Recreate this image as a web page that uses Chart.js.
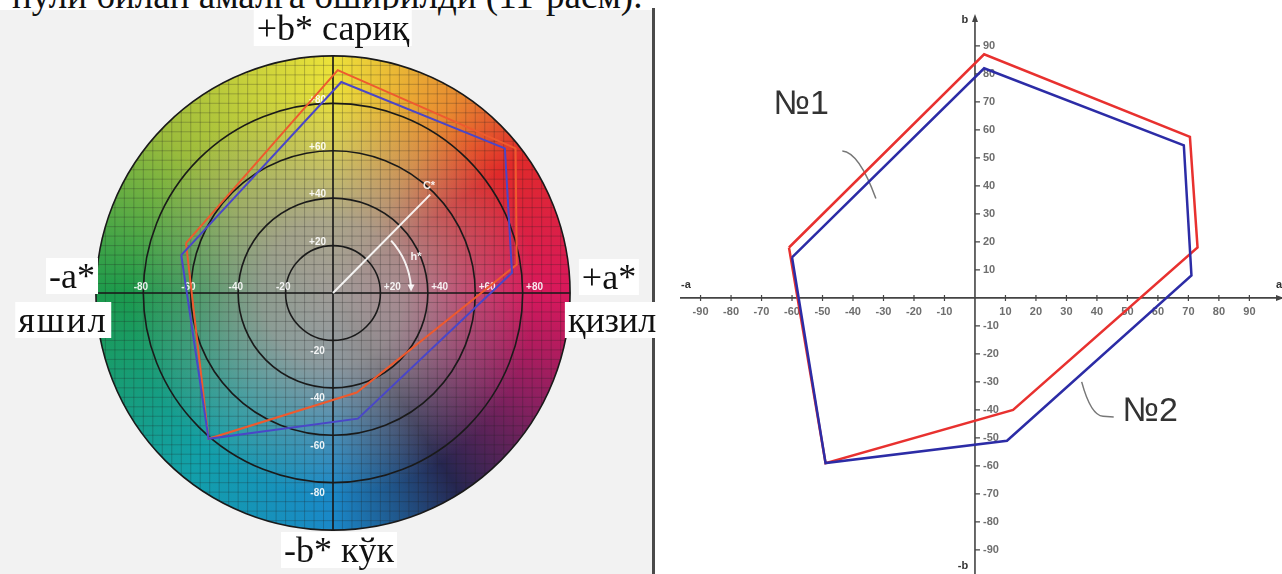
<!DOCTYPE html>
<html>
<head>
<meta charset="utf-8">
<script src="https://cdn.jsdelivr.net/npm/chart.js@4.4.1/dist/chart.umd.min.js"></script>
<style>
  body { margin: 0; width: 1282px; height: 574px; overflow: hidden; background: #fff; position: relative; }
  .t { position: absolute; white-space: nowrap; color: #111; font-family: "Liberation Serif", serif; }
  .lbl { font-size: 36px; line-height: 36px; background: #fff; padding: 0 3px; transform: translateX(-50%); }
  #panel { position: absolute; left: 0; top: 10px; width: 652px; height: 564px; background: #f2f2f2; }
  #sep { position: absolute; left: 652px; top: 8px; width: 3px; height: 566px; background: #4a4a4a; }
  #wheel { position: absolute; left: 85px; top: 45px; }
  #lab { position: absolute; left: 678px; top: 12px; }
</style>
</head>
<body>
<div id="panel"></div>
<div class="t" style="left:12px; top:-23px; font-size:37px; line-height:37px;">нули билан амалга оширилди (11-расм).</div>
<div id="sep"></div>
<canvas id="wheel" width="496" height="496"></canvas>
<canvas id="lab" width="604" height="562"></canvas>
<div class="t lbl" style="left:333px; top:10px;">+b* сариқ</div>
<div class="t lbl" style="left:339px; top:532px;">-b* кўк</div>
<div class="t lbl" style="left:72px; top:258px;">-a*</div>
<div class="t lbl" style="left:63px; top:302px; letter-spacing:2px;">яшил</div>
<div class="t lbl" style="left:609px; top:259px;">+a*</div>
<div class="t lbl" style="left:612px; top:302px;">қизил</div>
<script>
// colour circle (left)
const wheelTicks = [-80, -60, -40, -20, 20, 40, 60, 80];
const wheelRings = [20, 40, 60, 80, 100];
const wheelA1 = [-62, 2, 77, 77.5, 10, -52.5, -62];
const wheelB1 = [21, 94, 61, 12, -42, -61.5, 21];
const wheelA2 = [-64, 3.5, 72.5, 75.5, 10.5, -52.5, -64];
const wheelB2 = [16, 89, 61, 8.5, -53, -61.5, 16];
const chromaA = [0, 41];
const chromaB = [0, 41.5];

// a*b* plot (right)
const labTicks = [-90, -80, -70, -60, -50, -40, -30, -20, -10, 10, 20, 30, 40, 50, 60, 70, 80, 90];
const labA1 = [-61, 3, 70.5, 73, 12.5, -49, -61];
const labB1 = [18, 87, 57.5, 18, -40, -59, 18];
const labA2 = [-60, 3, 68.5, 71, 10.5, -49, -60];
const labB2 = [14.5, 82, 54.5, 8, -51, -59, 14.5];

function line(a, b, color, width) {
  return {
    data: a.map((v, i) => ({ x: v, y: b[i] })),
    showLine: true, borderColor: color, borderWidth: width,
    pointRadius: 0, fill: false, tension: 0
  };
}

function baseOptions(xMin, xMax, yMin, yMax) {
  return {
    responsive: false, animation: false,
    layout: { padding: 0 },
    plugins: { legend: { display: false }, tooltip: { enabled: false } },
    scales: {
      x: { type: 'linear', min: xMin, max: xMax, display: false },
      y: { type: 'linear', min: yMin, max: yMax, display: false }
    }
  };
}

const wheelPlugin = {
  id: 'wheel',
  beforeDatasetsDraw(chart) {
    const { ctx, scales: { x, y } } = chart;
    const cx = x.getPixelForValue(0), cy = y.getPixelForValue(0);
    const k = x.getPixelForValue(1) - cx;
    const R = 100 * k;
    ctx.save();
    const g = ctx.createConicGradient(0, cx, cy);
    g.addColorStop(0, '#d8185c');
    g.addColorStop(0.08, '#8a2060');
    g.addColorStop(0.16, '#262650');
    g.addColorStop(0.25, '#1a88c8');
    g.addColorStop(0.36, '#12a0a8');
    g.addColorStop(0.5, '#1c9a4c');
    g.addColorStop(0.62, '#9cbc3c');
    g.addColorStop(0.75, '#ece23a');
    g.addColorStop(0.84, '#e88a30');
    g.addColorStop(0.9, '#e02a2a');
    g.addColorStop(1, '#d8185c');
    ctx.beginPath();
    ctx.arc(cx, cy, R, 0, Math.PI * 2);
    ctx.fillStyle = g;
    ctx.fill();
    const rg = ctx.createRadialGradient(cx, cy, 0, cx, cy, R);
    rg.addColorStop(0, 'rgba(160,156,152,1)');
    rg.addColorStop(0.3, 'rgba(160,156,152,0.85)');
    rg.addColorStop(0.6, 'rgba(160,156,152,0.35)');
    rg.addColorStop(0.85, 'rgba(160,156,152,0)');
    ctx.fillStyle = rg;
    ctx.fill();
    // fine mesh
    ctx.save();
    ctx.clip();
    ctx.strokeStyle = 'rgba(30,30,30,0.25)';
    ctx.lineWidth = 1;
    ctx.beginPath();
    for (let v = -100; v <= 100; v += 4) {
      const px = x.getPixelForValue(v), py = y.getPixelForValue(v);
      ctx.moveTo(px, cy - R); ctx.lineTo(px, cy + R);
      ctx.moveTo(cx - R, py); ctx.lineTo(cx + R, py);
    }
    ctx.stroke();
    ctx.restore();
    // rings and axes
    ctx.strokeStyle = '#1a1a1a';
    ctx.lineWidth = 1.6;
    wheelRings.forEach(r => {
      ctx.beginPath();
      ctx.arc(cx, cy, r * k, 0, Math.PI * 2);
      ctx.stroke();
    });
    ctx.beginPath();
    ctx.moveTo(cx, cy - R); ctx.lineTo(cx, cy + R);
    ctx.moveTo(cx - R, cy); ctx.lineTo(cx + R, cy);
    ctx.stroke();
    // tick labels
    ctx.fillStyle = 'rgba(255,255,255,0.9)';
    ctx.font = 'bold 10px "Liberation Sans", sans-serif';
    ctx.textAlign = 'center';
    ctx.textBaseline = 'middle';
    wheelTicks.forEach(v => {
      const s = (v > 0 ? '+' : '') + v;
      ctx.fillText(s, x.getPixelForValue(v > 0 ? v + 5 : v - 1), cy - 6);
      ctx.fillText(s, x.getPixelForValue(-6.5), y.getPixelForValue(v > 0 ? v + 1.5 : v - 4.5));
    });
    // hue angle arc
    const r = 33 * k;
    ctx.strokeStyle = 'rgba(255,255,255,0.9)';
    ctx.lineWidth = 2;
    ctx.beginPath();
    ctx.arc(cx, cy, r, -42 * Math.PI / 180, -5 * Math.PI / 180);
    ctx.stroke();
    const ex = cx + r * Math.cos(-4 * Math.PI / 180), ey = cy + r * Math.sin(-4 * Math.PI / 180);
    ctx.beginPath();
    ctx.moveTo(ex - 3.5, ey - 3); ctx.lineTo(ex + 3.5, ey - 3); ctx.lineTo(ex, ey + 4);
    ctx.closePath();
    ctx.fillStyle = 'rgba(255,255,255,0.9)';
    ctx.fill();
    ctx.font = 'bold 11px "Liberation Sans", sans-serif';
    ctx.fillText('h*', x.getPixelForValue(35), y.getPixelForValue(15));
    ctx.fillText('C*', x.getPixelForValue(40.5), y.getPixelForValue(45));
    ctx.restore();
  }
};

new Chart(document.getElementById('wheel'), {
  type: 'scatter',
  data: {
    datasets: [
      line(wheelA2, wheelB2, '#4a46c8', 2),
      line(wheelA1, wheelB1, '#ee5a2e', 2),
      line(chromaA, chromaB, 'rgba(255,255,255,0.9)', 2)
    ]
  },
  options: baseOptions(-104.6, 104.6, -104.6, 104.6),
  plugins: [wheelPlugin]
});

const axesPlugin = {
  id: 'crossAxes',
  beforeDatasetsDraw(chart) {
    const { ctx, chartArea: ca, scales: { x, y } } = chart;
    const x0 = x.getPixelForValue(0), y0 = y.getPixelForValue(0);
    ctx.save();
    ctx.strokeStyle = '#444';
    ctx.fillStyle = '#444';
    ctx.lineWidth = 1.6;
    ctx.beginPath();
    ctx.moveTo(ca.left + 2, y0); ctx.lineTo(ca.right, y0);
    ctx.moveTo(x0, ca.top + 6); ctx.lineTo(x0, ca.bottom);
    ctx.stroke();
    // arrows
    ctx.beginPath();
    ctx.moveTo(x0, ca.top + 2); ctx.lineTo(x0 - 3, ca.top + 10); ctx.lineTo(x0 + 3, ca.top + 10);
    ctx.closePath(); ctx.fill();
    ctx.beginPath();
    ctx.moveTo(ca.right + 2, y0); ctx.lineTo(ca.right - 6, y0 - 3); ctx.lineTo(ca.right - 6, y0 + 3);
    ctx.closePath(); ctx.fill();
    // ticks
    ctx.lineWidth = 1.2;
    ctx.font = 'bold 11px "Liberation Sans", sans-serif';
    ctx.fillStyle = '#6e6e6e';
    ctx.textBaseline = 'middle';
    labTicks.forEach(v => {
      const px = x.getPixelForValue(v), py = y.getPixelForValue(v);
      ctx.beginPath();
      ctx.moveTo(px, y0 - 3); ctx.lineTo(px, y0 + 3);
      ctx.moveTo(x0, py); ctx.lineTo(x0 + 5, py);
      ctx.stroke();
      ctx.textAlign = 'center';
      ctx.fillText(String(v), px, y0 + 14);
      ctx.textAlign = 'left';
      ctx.fillText(String(v), x0 + 8, py);
    });
    // axis names
    ctx.fillStyle = '#333';
    ctx.textAlign = 'center';
    ctx.fillText('b', x0 - 10, ca.top + 8);
    ctx.fillText('-b', x0 - 12, ca.bottom - 8);
    ctx.fillText('-a', ca.left + 8, y0 - 13);
    ctx.fillText('a', ca.right - 3, y0 - 13);
    // sample labels with leaders
    ctx.font = '34px "Liberation Sans", sans-serif';
    ctx.fillStyle = '#333';
    ctx.fillText('№1', x.getPixelForValue(-57), y.getPixelForValue(69));
    ctx.fillText('№2', x.getPixelForValue(57.5), y.getPixelForValue(-40.5));
    ctx.strokeStyle = '#777';
    ctx.lineWidth = 1.5;
    ctx.beginPath();
    ctx.moveTo(x.getPixelForValue(-43.5), y.getPixelForValue(52.5));
    ctx.quadraticCurveTo(x.getPixelForValue(-38), y.getPixelForValue(52), x.getPixelForValue(-32.5), y.getPixelForValue(35.5));
    ctx.moveTo(x.getPixelForValue(35), y.getPixelForValue(-30));
    ctx.quadraticCurveTo(x.getPixelForValue(38), y.getPixelForValue(-42), x.getPixelForValue(42), y.getPixelForValue(-42.3));
    ctx.lineTo(x.getPixelForValue(45.5), y.getPixelForValue(-42.5));
    ctx.stroke();
    ctx.restore();
  }
};

new Chart(document.getElementById('lab'), {
  type: 'scatter',
  data: {
    datasets: [
      line(labA2, labB2, '#2c2ca6', 2.5),
      line(labA1, labB1, '#e8312f', 2.5)
    ]
  },
  options: baseOptions(-97.4, 100.7, -98.6, 102.1),
  plugins: [axesPlugin]
});
</script>
</body>
</html>
